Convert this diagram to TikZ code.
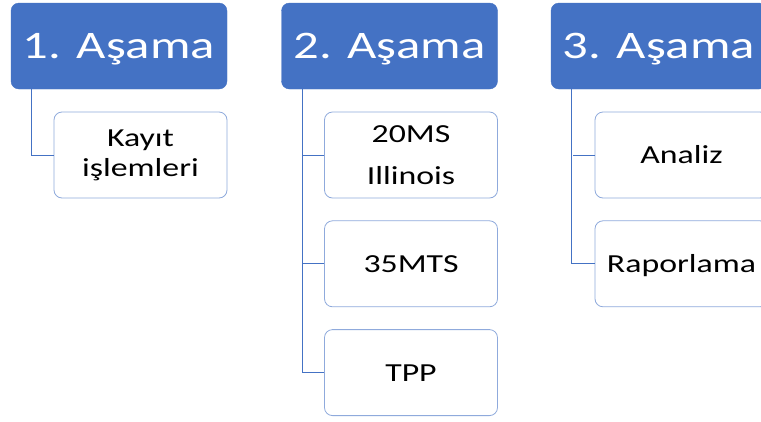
\documentclass[tikz,border=0pt]{standalone}
\usepackage{fontspec}
\setmainfont{Carlito}[FakeStretch=1.3]
\usetikzlibrary{positioning}
\definecolor{stageblue}{HTML}{4472C4}
\definecolor{taskline}{HTML}{8FAADC}

\begin{document}
\begin{tikzpicture}[x=1pt,y=-1pt,
  stage/.style={draw=stageblue,fill=stageblue,rounded corners=8pt,minimum width=216pt,minimum height=86pt,inner sep=0pt,text=white,font=\fontsize{39}{44}\selectfont,text height=25pt,text depth=0pt},
  task/.style={draw=taskline,line width=0.8pt,fill=white,rounded corners=8pt,minimum width=173pt,minimum height=86pt,inner sep=0pt,align=center,font=\fontsize{26}{30}\selectfont},
  oneline/.style={text height=17pt,text depth=0pt},
  link/.style={draw=stageblue,line width=0.8pt}]
\useasboundingbox (0,0) rectangle (761,421);
\clip (0,0) rectangle (761,421);
\fill[white] (0,0) rectangle (761,421);

% stage headers
\node[stage] (s1) at (119,46) {1. Aşama};
\node[stage] (s2) at (389.5,46) {2. Aşama};
\node[stage] (s3) at (659,46) {3. Aşama};

% tasks of each stage
\node[task] (kayit) at (140.5,155) {Kayıt\\işlemleri};
\node[task] (ms20) at (411,155) {20MS\\[12pt]Illinois};
\node[task,oneline,below=22pt of ms20] (mts35) {35MTS};
\node[task,oneline,below=22pt of mts35] (tpp) {TPP};
\node[task,oneline] (analiz) at (681.5,155) {Analiz};
\node[task,oneline,below=22pt of analiz] (rapor) {Raporlama};

% tree lines
\draw[link] ([xshift=21pt]s1.south west) |- (kayit.west);
\draw[link] ([xshift=21pt]s2.south west) |- (tpp.west);
\draw[link] (ms20.west) -- ++(-22,0);
\draw[link] (mts35.west) -- ++(-22,0);
\draw[link] ([xshift=21pt]s3.south west) |- (rapor.west);
\draw[link] (analiz.west) -- ++(-22,0);
\end{tikzpicture}
\end{document}
